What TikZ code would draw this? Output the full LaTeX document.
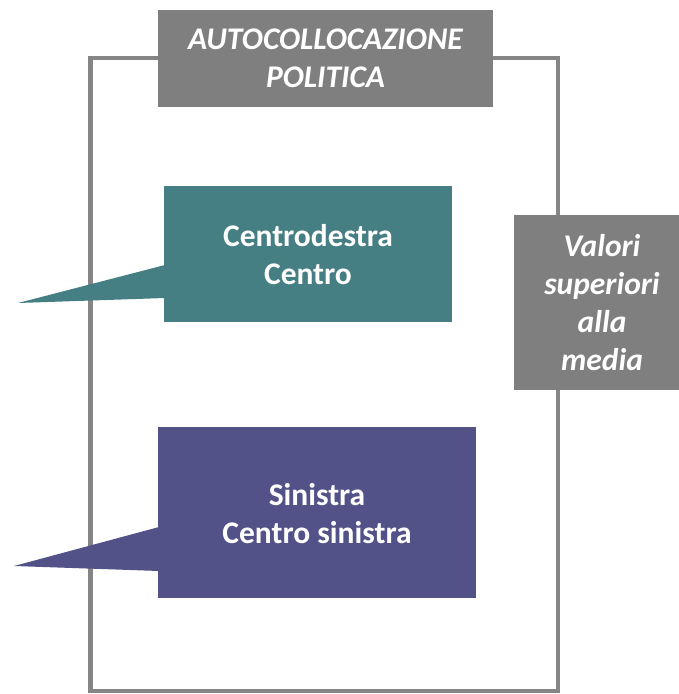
\documentclass[tikz,border=0pt]{standalone}
\usepackage{fontspec}
\setmainfont{Carlito}
\definecolor{framegray}{HTML}{858585}
\definecolor{boxgray}{HTML}{7F7F7F}
\definecolor{teal1}{HTML}{457E83}
\definecolor{purple1}{HTML}{525288}
\begin{document}
\begin{tikzpicture}[x=1pt,y=-1pt,
  txt/.style={text=white,font=\fontsize{31.5}{38}\selectfont\bfseries,align=center,inner sep=0pt},
  itxt/.style={txt,font=\fontsize{31.5}{38}\selectfont\bfseries\itshape}]
\useasboundingbox (0,0) rectangle (679,694);
\clip (0,0) rectangle (679,694);
% frame
\draw[framegray,line width=4.5pt] (90.5,58) rectangle (558,691.2);
% title
\fill[boxgray] (158,10) rectangle (493,107);
\node[itxt] (title) at (325.5,58.5) {AUTOCOLLOCAZIONE\\POLITICA};
% right box
\fill[boxgray] (514,215) rectangle (690,390);
\node[itxt] (valori) at (602,303) {Valori\\superiori\\alla\\media};
% teal callout
\coordinate (tip1) at (18,303);
\fill[teal1] (164,186) rectangle (452,322);
\fill[teal1] (tip1) -- (165,265) -- (165,298) -- cycle;
\node[txt] (centro) at (308,255) {Centrodestra\\Centro};
% purple callout
\coordinate (tip2) at (14,566);
\fill[purple1] (158,427) rectangle (476,598);
\fill[purple1] (tip2) -- (159,527) -- (159,571) -- cycle;
\node[txt] (sinistra) at (317,514) {Sinistra\\Centro sinistra};
\end{tikzpicture}
\end{document}
